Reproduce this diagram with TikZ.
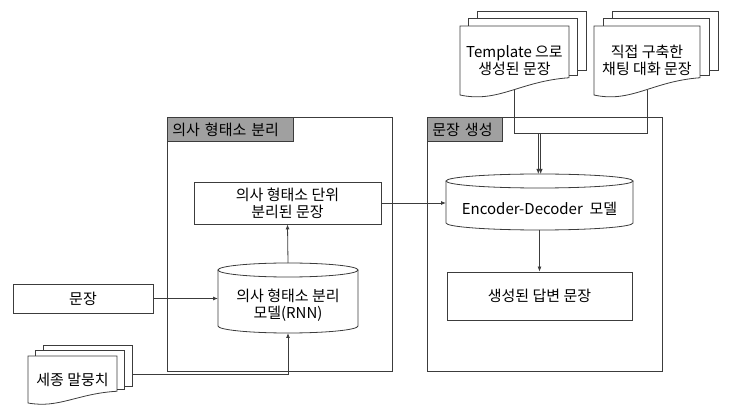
\documentclass[tikz,border=0pt]{standalone}
\usepackage{fontspec}
\setmainfont{Noto Sans CJK KR}
\usetikzlibrary{arrows.meta,calc}

\definecolor{tagfill}{RGB}{160,160,160}
\definecolor{linegray}{RGB}{60,60,60}

% stack of three pages: name, x, y, width, height, dx, dy, text
\newcommand\docstack[8]{%
  \draw[page] (#2+2*#6,#3-#7) -- (#2+2*#6,#3-2*#7) -- (#2+#4+2*#6,#3-2*#7)
        -- (#2+#4+2*#6,#3+0.64*#5) -- (#2+#4+#6,#3+0.64*#5);
  \draw[page] (#2+#6,#3) -- (#2+#6,#3-#7) -- (#2+#4+#6,#3-#7)
        -- (#2+#4+#6,#3+0.72*#5) -- (#2+#4,#3+0.72*#5);
  \draw[page] (#2,#3) -- (#2+#4,#3) -- (#2+#4,#3+0.75*#5)
        .. controls (#2+0.55*#4,#3+0.8*#5) and (#2+0.35*#4,#3+1.12*#5) .. (#2,#3+#5) -- cycle;
  \node[txt] (#1) at (#2+0.5*#4,#3+0.5*#5) {#8};
  \coordinate (#1 out) at (#2+0.5*#4,#3+0.93*#5);
  \coordinate (#1 side) at (#2+#4+2*#6,#3+0.4*#5);
}
% database: name, cx, cy, width, height, text
\newcommand\dbnode[6]{%
  \node[dbbox,minimum width=#4pt,minimum height=#5pt] (#1) at (#2,#3) {};
  \draw[page] ($(#1.north west)+(0,-7pt)$) -- ($(#1.south west)+(0,7pt)$)
        arc[start angle=180,end angle=360,x radius=#4pt/2,y radius=7pt]
        -- ($(#1.north east)+(0,-7pt)$);
  \draw[page] ($(#1.north)+(0,-7pt)$) ellipse[x radius=#4pt/2,y radius=7pt];
  \node[txt] at ($(#1.center)+(0,-7pt)$) {#6};
}

\begin{document}
\begin{tikzpicture}[x=1pt,y=-1pt,->,>={Latex[length=5pt,width=4pt]},line width=0.8pt]
  \tikzstyle{txt}=[align=center,font=\fontsize{15}{17}\selectfont,inner sep=0pt]
  \tikzstyle{page}=[-,draw=linegray,line width=0.8pt]
  \tikzstyle{dbbox}=[inner sep=0pt,outer sep=0pt]
  \tikzstyle{box}=[draw=linegray,align=center,font=\fontsize{15}{17}\selectfont,inner sep=0pt]
  \tikzstyle{frame}=[draw=linegray,inner sep=0pt,anchor=north west]
  \tikzstyle{tag}=[draw=linegray,fill=tagfill,anchor=north west,align=left,
                   font=\fontsize{15}{17}\selectfont,inner xsep=5pt,minimum height=24pt,inner ysep=0pt]
  \tikzstyle{wire}=[draw=linegray,line width=0.8pt]

  \useasboundingbox (0,0) rectangle (729,406);

  % the two stages
  \node[frame,minimum width=225pt,minimum height=254pt] (sepframe) at (167,117) {};
  \node[tag,text width=116pt] (septag) at (sepframe.north west) {의사 형태소 분리};
  \node[frame,minimum width=235pt,minimum height=254pt] (genframe) at (427,117) {};
  \node[tag,text width=65pt] (gentag) at (genframe.north west) {문장 생성};

  \node[box,minimum width=187pt,minimum height=42pt] (morph) at (287.5,203) {의사 형태소 단위\\분리된 문장};
  \node[box,minimum width=140pt,minimum height=29pt] (sent) at (83,298.5) {문장};
  \node[box,minimum width=185pt,minimum height=48pt] (answer) at (539.5,296) {생성된 답변 문장};

  \dbnode{rnn}{288}{298}{140}{70}{의사 형태소 분리\\모델(RNN)}
  \dbnode{encdec}{539.5}{202}{187}{56}{Encoder-Decoder\ \ 모델}

  \docstack{sejong}{28}{356}{89}{47}{7.5}{5.5}{세종 말뭉치}
  \docstack{tmpl}{460}{26}{109}{69}{8.5}{7.5}{Template 으로\\생성된 문장}
  \docstack{chat}{594}{26}{106}{69}{9}{7.5}{직접 구축한\\채팅 대화 문장}

  \coordinate (merge) at (539.5,133);

  \path (sent.east) edge[wire] (sent.east -| rnn.west)
        (rnn.north) edge[wire] (morph.south)
        (morph.east) edge[wire] (morph.east -| encdec.west)
        (encdec.south) edge[wire] (answer.north);
  \draw[wire] (sejong side) -| (rnn.south);
  \draw[wire] (tmpl out) |- ([xshift=1.2pt]merge) -- ([xshift=1.2pt]encdec.north);
  \draw[wire] (chat out) |- ([xshift=-1.2pt]merge) -- ([xshift=-1.2pt]encdec.north);
\end{tikzpicture}
\end{document}
